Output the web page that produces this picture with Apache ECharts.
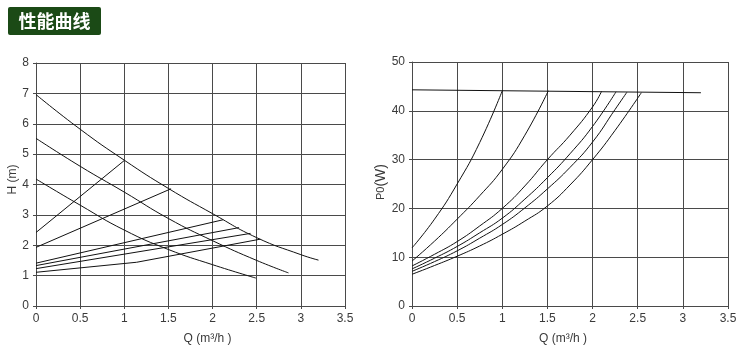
<!DOCTYPE html>
<html>
<head>
<meta charset="utf-8">
<script src="https://cdn.jsdelivr.net/npm/echarts@6/dist/echarts.min.js"></script>
<style>
  html, body { margin: 0; padding: 0; background: #fff; }
  #chart { width: 750px; height: 350px; }
</style>
</head>
<body>
<div id="chart"></div>
<script>
// Flow ticks shared by both panels (m³/h)
const qTicks = [0, 0.5, 1, 1.5, 2, 2.5, 3, 3.5];

// Head curves H(Q), one per speed setting (Q, H in m)
const headHigh = [[0, 6.96], [0.5, 5.82], [1, 4.80], [1.5, 3.87], [2, 3.04], [2.5, 2.25], [3, 1.69], [3.2, 1.51]];
const headMid  = [[0, 5.52], [0.5, 4.60], [1, 3.75], [1.5, 2.88], [2, 2.15], [2.5, 1.50], [2.86, 1.09]];
const headLow  = [[0, 4.18], [0.5, 3.32], [1, 2.50], [1.5, 1.86], [2, 1.36], [2.49, 0.92]];

// System resistance lines (Q, H in m)
const sys1 = [[0, 2.42], [1, 4.79]];
const sys2 = [[0, 1.93], [1.53, 3.86]];
const sys3 = [[0, 1.41], [2.12, 2.84]];
const sys4 = [[0, 1.33], [2.30, 2.58]];
const sys5 = [[0, 1.23], [2.43, 2.39]];
const sys6 = [[0, 1.11], [1.14, 1.44], [2.54, 2.20]];

// Input power P0 (Q, W)
const powerLimit = [[0, 44.3], [3.2, 43.7]];
const power1 = [[0, 11.9], [0.25, 17.8], [0.5, 25.0], [0.75, 33.5], [1.0, 44.1]];
const power2 = [[0, 9.2], [0.25, 13.3], [0.5, 17.8], [0.75, 22.6], [1, 28.0], [1.25, 35.0], [1.51, 44.1]];
const power3 = [[0, 8.2], [0.25, 10.6], [0.5, 13.2], [0.75, 16.4], [1, 20.0], [1.25, 24.6], [1.5, 30.0], [1.75, 35.0], [2, 40.8], [2.10, 44.0]];
const power4 = [[0, 7.6], [0.25, 9.8], [0.5, 12.2], [0.75, 15.0], [1, 18.0], [1.25, 21.9], [1.5, 26.3], [1.75, 31.2], [2, 36.8], [2.26, 43.9]];
const power5 = [[0, 7.1], [0.25, 9.1], [0.5, 11.3], [0.75, 13.9], [1, 16.7], [1.25, 20.1], [1.5, 24.0], [1.75, 28.4], [2, 33.6], [2.25, 40.3], [2.38, 43.8]];
const power6 = [[0, 6.5], [0.25, 8.3], [0.5, 10.2], [0.75, 12.3], [1, 14.7], [1.25, 17.4], [1.5, 20.5], [1.75, 24.8], [2, 30.0], [2.25, 36.0], [2.54, 43.7]];

const headSeries = [headHigh, headMid, headLow];
const sysSeries = [sys1, sys2, sys3, sys4, sys5, sys6];
const powerCurves = [power1, power2, power3, power4, power5, power6];

const gridColor = '#4a4a4a';
const textColor = '#3a3a3a';
const fontFamily = 'Liberation Sans, Arial, sans-serif';

function xAxisFor(gridIndex, namePad) {
  return {
    type: 'value', gridIndex: gridIndex,
    min: qTicks[0], max: qTicks[qTicks.length - 1], interval: 0.5,
    name: 'Q (m³/h )', nameLocation: 'middle', nameGap: 27,
    nameTextStyle: { color: textColor, fontSize: 12, fontFamily: fontFamily, padding: namePad },
    axisLine: { show: true, lineStyle: { color: gridColor, width: 1 } },
    axisTick: { show: true, length: 3, lineStyle: { color: gridColor } },
    axisLabel: { color: textColor, fontSize: 12, fontFamily: fontFamily, margin: 7 },
    splitLine: { show: true, showMinLine: true, showMaxLine: true, lineStyle: { color: gridColor, width: 1 } }
  };
}

function yAxisFor(gridIndex, max, interval, name, nameGap, namePad, rich) {
  return {
    type: 'value', gridIndex: gridIndex,
    min: 0, max: max, interval: interval,
    name: name, nameLocation: 'middle', nameGap: nameGap, nameRotate: 90,
    nameTextStyle: { color: textColor, fontSize: 12, fontFamily: fontFamily, padding: namePad, rich: rich },
    axisLine: { show: true, lineStyle: { color: gridColor, width: 1 } },
    axisTick: { show: true, length: 3, lineStyle: { color: gridColor } },
    axisLabel: { color: textColor, fontSize: 12, fontFamily: fontFamily, margin: 7 },
    splitLine: { show: true, showMinLine: true, showMaxLine: true, lineStyle: { color: gridColor, width: 1 } }
  };
}

function curve(data, axisIndex, smooth) {
  return {
    type: 'line', data: data,
    xAxisIndex: axisIndex, yAxisIndex: axisIndex,
    smooth: smooth, symbol: 'none', silent: true,
    lineStyle: { color: '#111', width: 1 }
  };
}

const series = [];
headSeries.forEach(d => series.push(curve(d, 0, 0.5)));
sysSeries.forEach(d => series.push(curve(d, 0, false)));
series.push(curve(powerLimit, 1, false));
powerCurves.forEach(d => series.push(curve(d, 1, 0.5)));

const chart = echarts.init(document.getElementById('chart'), null, { renderer: 'canvas' });
chart.setOption({
  backgroundColor: '#fff',
  animation: false,
  grid: [
    { left: 36, right: 405, top: 63, bottom: 42 },
    { left: 412, right: 22, top: 62, bottom: 41 }
  ],
  xAxis: [xAxisFor(0, [0, 0, 0, 34]), xAxisFor(1, [0, 14, 0, 0])],
  yAxis: [
    yAxisFor(0, 8, 1, 'H (m)', 17, [0, 0, 0, 10]),
    yAxisFor(1, 50, 10, '{a|P0}{b|(W)}', 8, [0, 0, 0, 4], {
      a: { fontSize: 11, color: textColor, fontFamily: fontFamily },
      b: { fontSize: 14, color: textColor, fontFamily: fontFamily }
    })
  ],
  series: series,
  graphic: [
    {
      type: 'group', left: 8, top: 7,
      children: [
        { type: 'rect', shape: { x: 0, y: 0, width: 93, height: 28, r: 2 }, style: { fill: '#1b4a16' } },
        {
          type: 'text', x: 46.5, y: 14,
          style: {
            text: '性能曲线', fill: '#fff', align: 'center', verticalAlign: 'middle',
            font: 'bold 18px "Noto Sans CJK SC", sans-serif'
          }
        }
      ]
    }
  ]
});
</script>
</body>
</html>
